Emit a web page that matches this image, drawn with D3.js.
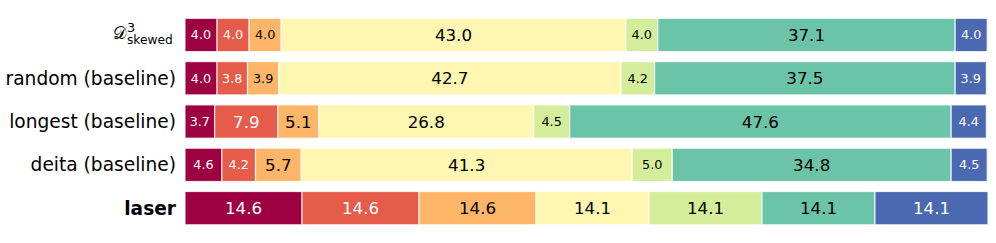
<!DOCTYPE html>
<html><head><meta charset="utf-8">
<script src="https://cdn.jsdelivr.net/npm/d3@7"></script>
<style>body{margin:0;background:#fff}svg{display:block}</style>
</head><body><svg id="c" width="996" height="243"></svg>
<script>
const categories = ["skewed", "random (baseline)", "longest (baseline)", "deita (baseline)", "laser"];
const segmentColors = ["#9e0142", "#e55c4b", "#fdb567", "#fff6b1", "#d4ed9b", "#6cc4a8", "#4a69b0"];
const seriesValues = [
  [4.0, 4.0, 4.0, 43.0, 4.0, 37.1, 4.0],
  [4.0, 3.8, 3.9, 42.7, 4.2, 37.5, 3.9],
  [3.7, 7.9, 5.1, 26.8, 4.5, 47.6, 4.4],
  [4.6, 4.2, 5.7, 41.3, 5.0, 34.8, 4.5],
  [14.6, 14.6, 14.6, 14.1, 14.1, 14.1, 14.1]
];
const whiteText = [true, true, false, false, false, false, true];

const svg = d3.select("#c");
const totals = seriesValues.map(r => d3.sum(r));
const x = d3.scaleLinear().domain([0, d3.max(totals)]).range([185, 988]);
const y = d3.scaleBand().domain(categories).range([8.3, 234.8]).paddingInner(0.231).paddingOuter(0.231);

categories.forEach((cat, i) => {
  const vals = seriesValues[i];
  let acc = 0;
  const segs = vals.map((v, j) => { const s = {x0: acc, x1: acc + v, v, j}; acc += v; return s; });
  const g = svg.append("g");
  g.selectAll("rect").data(segs).join("rect")
    .attr("x", d => x(d.x0)).attr("width", d => x(d.x1) - x(d.x0))
    .attr("y", y(cat)).attr("height", y.bandwidth())
    .attr("fill", d => segmentColors[d.j])
    .attr("stroke", "#fff").attr("stroke-width", 1.2).attr("stroke-opacity", 0.8);
  g.selectAll("text").data(segs).join("text")
    .attr("x", d => (x(d.x0) + x(d.x1)) / 2)
    .attr("y", y(cat) + y.bandwidth() / 2)
    .attr("text-anchor", "middle").attr("dominant-baseline", "central")
    .attr("font-family", "DejaVu Sans")
    .attr("font-size", d => d.v > 5.05 ? 16.7 : 12.8)
    .attr("fill", d => whiteText[d.j] ? "#fff" : "#000")
    .text(d => d.v.toFixed(1));
});

// y axis labels
const labelX = 176;
categories.forEach((cat, i) => {
  const cy = y(cat) + y.bandwidth() / 2;
  if (i === 0) {
    const g = svg.append("g").attr("font-family", "DejaVu Sans").attr("fill", "#000");
    g.append("text").attr("x", 127).attr("y", cy + 3.8).attr("text-anchor", "end")
      .attr("font-size", 17).text("\u{1D49F}");
    g.append("text").attr("x", 127).attr("y", cy - 3.3).attr("text-anchor", "start")
      .attr("font-size", 12.8).text("3");
    g.append("text").attr("x", 127).attr("y", cy + 9.3).attr("text-anchor", "start")
      .attr("font-size", 12.2).text("skewed");
  } else {
    svg.append("text").attr("x", labelX).attr("y", cy)
      .attr("text-anchor", "end").attr("dominant-baseline", "central")
      .attr("font-family", "DejaVu Sans").attr("font-size", 18.6)
      .attr("font-weight", cat === "laser" ? "bold" : "normal")
      .attr("fill", "#000").text(cat);
  }
});
</script></body></html>
